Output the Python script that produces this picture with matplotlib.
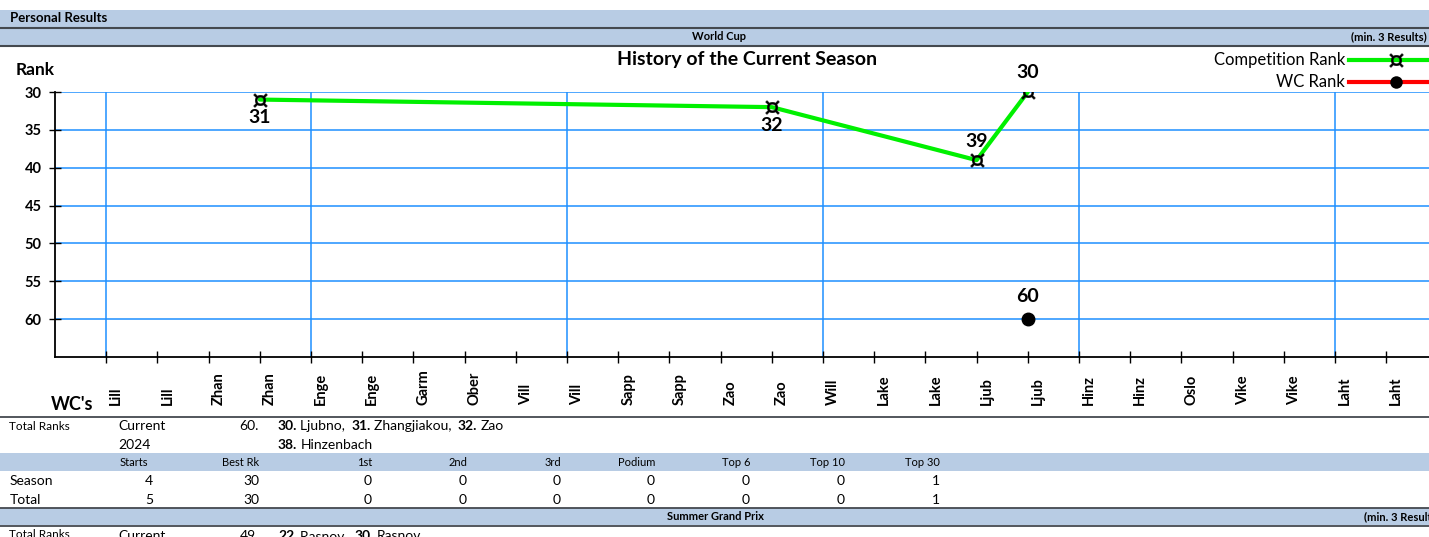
import numpy as np
import matplotlib.pyplot as plt
import matplotlib.transforms as mtransforms
from matplotlib.lines import Line2D
from matplotlib.patches import Rectangle

plt.rcParams['font.family'] = ['Lato', 'DejaVu Sans']

# data
races = ['Lill', 'Lill', 'Zhan', 'Zhan', 'Enge', 'Enge', 'Garm', 'Ober', 'Vill', 'Vill',
         'Sapp', 'Sapp', 'Zao', 'Zao', 'Will', 'Lake', 'Lake', 'Ljub', 'Ljub', 'Hinz',
         'Hinz', 'Oslo', 'Vike', 'Vike', 'Laht', 'Laht']
nan = np.nan
comp_rank = [nan, nan, nan, 31, nan, nan, nan, nan, nan, nan, nan, nan, nan, 32,
             nan, nan, nan, 39, 30, nan, nan, nan, nan, nan, nan, nan]
wc_rank = [nan] * 18 + [60] + [nan] * 7
label_below = [31, 32]

stat_cols = ['Starts', 'Best Rk', '1st', '2nd', '3rd', 'Podium', 'Top 6', 'Top 10', 'Top 30']
season_stats = [4, 30, 0, 0, 0, 0, 0, 0, 1]
total_stats = [5, 30, 0, 0, 0, 0, 0, 0, 1]
wc_total_rank = '60.'
wc_best = [('30.', 'Ljubno'), ('31.', 'Zhangjiakou'), ('32.', 'Zao')]
wc_best2 = [('38.', 'Hinzenbach')]
sgp_total_rank = '49.'
sgp_best = [('22.', 'Rasnov'), ('30.', 'Rasnov')]

W, H = 1429, 537
fig = plt.figure(figsize=(W / 100, H / 100), dpi=100)


def fx(px):
    return px / W


def fy(py):
    return 1 - py / H


band = '#b8cce4'
dark = '#44494f'


def hband(y0, y1):
    fig.add_artist(Rectangle((0, fy(y1)), 1, fy(y0) - fy(y1), transform=fig.transFigure,
                             facecolor=band, edgecolor='none'))


def hline(y, lw=1.5):
    fig.add_artist(Line2D([0, 1], [fy(y), fy(y)], transform=fig.transFigure, color=dark, lw=lw))


# header bands
hband(10, 46)
hline(27.5)
hline(46)
fig.text(fx(10), fy(18.5), 'Personal Results', fontsize=9.5, fontweight='bold', va='center')
fig.text(fx(719), fy(37), 'World Cup', fontsize=8, fontweight='bold', va='center', ha='center')
fig.text(fx(1427), fy(37), '(min. 3 Results)', fontsize=8, fontweight='bold', va='center', ha='right')

# main chart
ax = fig.add_axes([fx(55), fy(357), 1 - fx(55), fy(92) - fy(357)])
step = 51.2
ax.set_xlim(0, (W - 55) / step)
ax.set_ylim(65, 30)
grid_c = '#1e8fff'
for yv in range(30, 61, 5):
    ax.axhline(yv, color=grid_c, lw=1.1, zorder=0)
for xv in [1, 5, 10, 15, 20, 25]:
    ax.axvline(xv, color=grid_c, lw=1.1, zorder=0)

for s in ['top', 'right']:
    ax.spines[s].set_visible(False)
for s in ['left', 'bottom']:
    ax.spines[s].set_color('black')
    ax.spines[s].set_linewidth(1.3)

ax.set_yticks(range(30, 61, 5))
ax.set_yticklabels([str(v) for v in range(30, 61, 5)], fontsize=10.5, fontweight='bold')
ax.set_xticks(np.arange(1, len(races) + 1))
ax.set_xticklabels([])
ax.tick_params(axis='both', direction='inout', length=9, width=1, color='black')
ax.tick_params(axis='y', pad=5)

xs = np.arange(1, len(races) + 1)
cr = np.array(comp_rank, dtype=float)
m = ~np.isnan(cr)
ax.plot(xs[m], cr[m], color='#00f000', lw=3, zorder=3, solid_capstyle='round')
ax.plot(xs[m], cr[m], ls='none', marker='$¤$', markersize=10, markeredgewidth=0.3,
        color='black', zorder=4)
for x, v in zip(xs[m], cr[m]):
    off = 18 if v in label_below else -19
    ax.annotate(str(int(v)), (x, v), xytext=(0, -off * 0.72), textcoords='offset points',
                ha='center', va='center', fontsize=14, fontweight='bold')

wr = np.array(wc_rank, dtype=float)
mw = ~np.isnan(wr)
ax.plot(xs[mw], wr[mw], ls='none', marker='o', markersize=9, color='black', zorder=4)
for x, v in zip(xs[mw], wr[mw]):
    ax.annotate(str(int(v)), (x, v), xytext=(0, 16), textcoords='offset points',
                ha='center', va='center', fontsize=14, fontweight='bold')

# category labels
lab_tr = mtransforms.blended_transform_factory(ax.transData, fig.transFigure) + \
    mtransforms.ScaledTranslation(10 / 100, 0, fig.dpi_scale_trans)
for x, name in zip(xs, races):
    ax.text(x, fy(405), name, transform=lab_tr, rotation=90, ha='center', va='bottom',
            fontsize=10.5, fontweight='bold', clip_on=False)

fig.text(fx(35), fy(70), 'Rank', fontsize=12.5, fontweight='bold', va='center', ha='center')
fig.text(fx(72), fy(405), "WC's", fontsize=13, fontweight='bold', va='center', ha='center')
fig.text(fx(747), fy(60), 'History of the Current Season', fontsize=14, fontweight='bold',
         va='center', ha='center')

# legend
for yy, lab, lc, mk in [(60, 'Competition Rank', '#00f000', '$¤$'), (82, 'WC Rank', '#ff0000', 'o')]:
    fig.text(fx(1345), fy(yy), lab, fontsize=12, ha='right', va='center')
    fig.add_artist(Line2D([fx(1349), 1.01], [fy(yy), fy(yy)], transform=fig.transFigure,
                          color=lc, lw=3))
    fig.add_artist(Line2D([fx(1396)], [fy(yy)], transform=fig.transFigure, ls='none',
                          marker=mk, markersize=10 if mk != 'o' else 9,
                          markeredgewidth=0.3 if mk != 'o' else 0, color='black'))

# table
renderer = fig.canvas.get_renderer()


def rich(x, y, parts, fs=10):
    for i, (num, name) in enumerate(parts):
        sep = ', ' if i < len(parts) - 1 else ''
        t = fig.text(fx(x), fy(y), num, fontsize=fs, fontweight='bold', va='center')
        x += t.get_window_extent(renderer).width + 3
        t = fig.text(fx(x), fy(y), name + sep, fontsize=fs, va='center')
        x += t.get_window_extent(renderer).width + 3


hline(417, 1.3)
fig.text(fx(9), fy(426), 'Total Ranks', fontsize=8.5, va='center')
fig.text(fx(118), fy(426), 'Current', fontsize=10, va='center')
fig.text(fx(259), fy(426), wc_total_rank, fontsize=10, va='center', ha='right')
rich(278, 426, wc_best)
fig.text(fx(118), fy(445), '2024', fontsize=10, va='center')
rich(278, 445, wc_best2)

hband(453, 471)
col_x = [153, 259, 372, 467, 561, 655, 750, 845, 940]
for i, (cx, name) in enumerate(zip(col_x, stat_cols)):
    if i == 0:
        fig.text(fx(134), fy(462), name, fontsize=8, va='center', ha='center')
    else:
        fig.text(fx(cx), fy(462), name, fontsize=8, va='center', ha='right')
for yy, lab, vals in [(481, 'Season', season_stats), (500, 'Total', total_stats)]:
    fig.text(fx(10), fy(yy), lab, fontsize=10, va='center')
    for cx, v in zip(col_x, vals):
        fig.text(fx(cx), fy(yy), str(v), fontsize=10, va='center', ha='right')

hband(508, 525)
hline(507.5, 1.3)
hline(525.5, 1.3)
fig.text(fx(715), fy(516.5), 'Summer Grand Prix', fontsize=8, fontweight='bold', va='center', ha='center')
fig.text(fx(1440), fy(516.5), '(min. 3 Results)', fontsize=8, fontweight='bold', va='center', ha='right')
fig.text(fx(9), fy(535), 'Total Ranks', fontsize=8.5, va='center')
fig.text(fx(118), fy(536), 'Current', fontsize=10, va='center')
fig.text(fx(259), fy(536), sgp_total_rank, fontsize=10, va='center', ha='right')
rich(278, 536, sgp_best)

fig.savefig('out.png', dpi=100)
